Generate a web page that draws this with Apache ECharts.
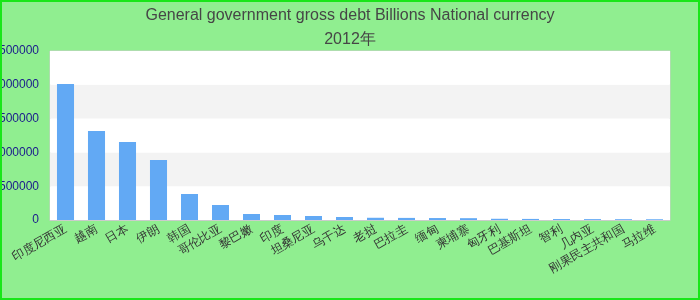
<!DOCTYPE html>
<html>
<head>
<meta charset="utf-8">
<script src="https://cdn.jsdelivr.net/npm/echarts@6/dist/echarts.min.js"></script>
<style>
html,body{margin:0;padding:0;background:#90ee90;}
#chart{width:700px;height:300px;}
</style>
</head>
<body>
<div id="chart"></div>
<script>
const titleText = 'General government gross debt Billions National currency';
const subtitleText = '2012年';
const categories = ['印度尼西亚','越南','日本','伊朗','韩国','哥伦比亚','黎巴嫩','印度','坦桑尼亚','乌干达','老挝','巴拉圭','缅甸','柬埔寨','匈牙利','巴基斯坦','智利','几内亚','刚果民主共和国','马拉维'];
const debtValues = [2012000,1316000,1154000,888000,385000,222000,88800,74000,59000,44000,33000,31000,29000,27000,18000,16000,14000,13000,12000,11000];
const yTicks = {min:0, max:2500000, interval:500000};

const chart = echarts.init(document.getElementById('chart'), null, {renderer:'canvas'});
chart.setOption({
  backgroundColor:'#90ee90',
  textStyle:{fontFamily:'Liberation Sans, Arial, sans-serif'},
  title:{
    text:titleText,
    subtext:subtitleText,
    left:'center',
    top:3,
    itemGap:8,
    textStyle:{fontSize:16,fontWeight:'normal',color:'#464646',fontFamily:'Liberation Sans, Arial, sans-serif'},
    subtextStyle:{fontSize:16,color:'#464646',fontFamily:'Liberation Sans, Arial, sans-serif'}
  },
  graphic:[{
    type:'rect', silent:true, z:100,
    shape:{x:1,y:1,width:698,height:298},
    style:{fill:null,stroke:'#19e619',lineWidth:2}
  }],
  grid:{left:50,right:30,top:51,bottom:80,containLabel:false,outerBoundsMode:'none',show:true,backgroundColor:'#ffffff',borderColor:'#cccccc',borderWidth:1},
  xAxis:{
    type:'category',
    data:categories,
    axisLine:{show:true,lineStyle:{color:'#cccccc'}},
    axisTick:{show:false},
    axisLabel:{interval:0,rotate:30,fontSize:12,color:'#333333',margin:8}
  },
  yAxis:{
    type:'value',
    min:yTicks.min,max:yTicks.max,interval:yTicks.interval,
    axisLine:{show:false},
    axisTick:{show:false},
    splitLine:{show:false},
    splitArea:{show:true,areaStyle:{color:['#ffffff','#f3f3f3']}},
    axisLabel:{fontSize:12,color:'#1a1a8c',margin:11,formatter:function(v){return String(v);}}
  },
  series:[{
    type:'bar',
    data:debtValues,
    barWidth:'55%',
    itemStyle:{color:'#62a9f4'}
  }]
});
</script>
</body>
</html>
